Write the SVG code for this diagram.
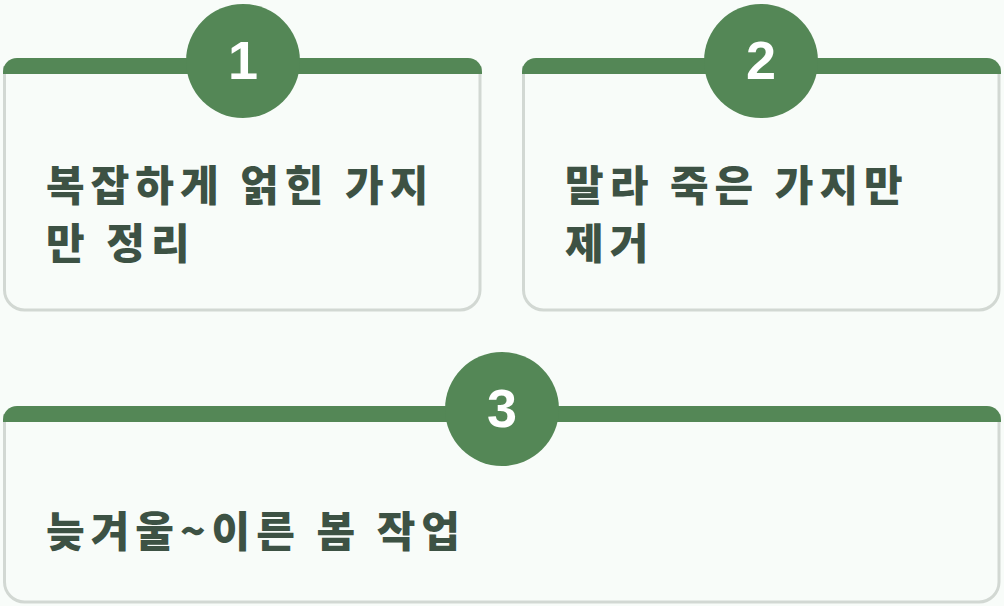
<svg xmlns="http://www.w3.org/2000/svg" width="1004" height="606" viewBox="0 0 1004 606">
<style>
.card{fill:#f8fcf9;stroke:#d2d8d3;stroke-width:3}
.bar{fill:#548756}
.num{font-family:"Liberation Sans",Arial,sans-serif;font-weight:bold;font-size:54px;fill:#fff;text-anchor:middle}
.t{font-family:"Noto Sans CJK KR",sans-serif;font-weight:900;font-size:42px;letter-spacing:6px;fill:#3d5244}
</style>
<rect width="1004" height="606" fill="#f8fcf9"/>
<g id="node1">
<path class="card" d="M4.5 66 V290 a20 20 0 0 0 20 20 H460 a20 20 0 0 0 20 -20 V66"/>
<path class="bar" d="M3 74 V72 a14 14 0 0 1 14 -14 H468 a14 14 0 0 1 14 14 V74 Z"/>
<circle class="bar" cx="243" cy="61" r="57"/>
<text class="num" x="243" y="79">1</text>
<text class="t" x="46" y="201">복잡하게 얽힌 가지</text>
<text class="t" x="46" y="259">만 정리</text>
</g>
<g id="node2">
<path class="card" d="M523.5 66 V290 a20 20 0 0 0 20 20 H979 a20 20 0 0 0 20 -20 V66"/>
<path class="bar" d="M522 74 V72 a14 14 0 0 1 14 -14 H987 a14 14 0 0 1 14 14 V74 Z"/>
<circle class="bar" cx="761" cy="61" r="57"/>
<text class="num" x="761" y="79">2</text>
<text class="t" x="565" y="201">말라 죽은 가지만</text>
<text class="t" x="565" y="259">제거</text>
</g>
<g id="node3">
<path class="card" d="M4.5 414 V582 a20 20 0 0 0 20 20 H979 a20 20 0 0 0 20 -20 V414"/>
<path class="bar" d="M3 422 V420 a14 14 0 0 1 14 -14 H987 a14 14 0 0 1 14 14 V422 Z"/>
<circle class="bar" cx="502" cy="409" r="57"/>
<text class="num" x="502" y="427">3</text>
<text class="t" x="46" y="547">늦겨울~이른 봄 작업</text>
</g>
<g id="connectors"/>
</svg>
